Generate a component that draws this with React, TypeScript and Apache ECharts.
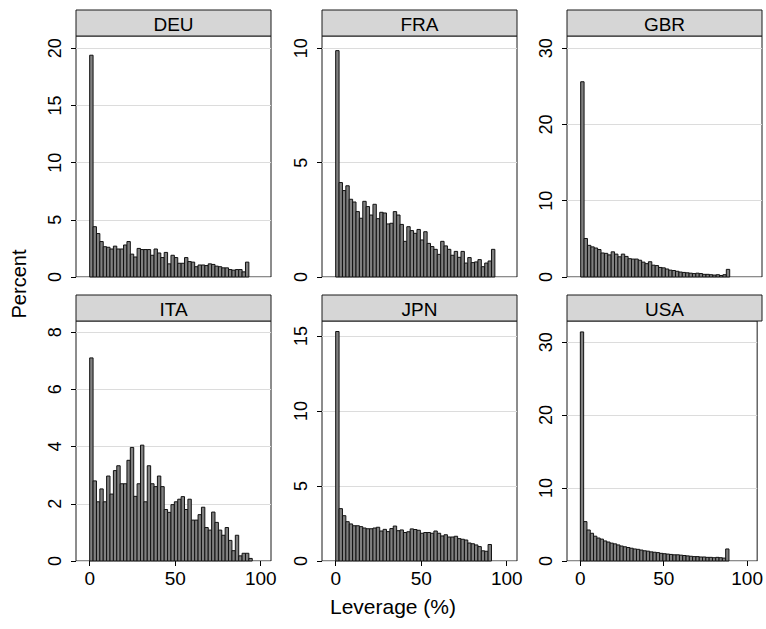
import React, { useEffect, useRef } from "react";
import * as echarts from "echarts";

// ---- data (percent of firms per leverage bin) ----
const binWidth = 1.98;
const countries = ["DEU", "FRA", "GBR", "ITA", "JPN", "USA"];

const deu = [19.4, 4.4, 3.8, 3.1, 2.65, 2.6, 2.45, 2.7, 2.45, 2.45, 2.8, 3.1, 2.0, 1.75, 2.5, 2.4, 2.4, 2.4, 1.9, 2.45, 2.1, 1.7, 2.15, 1.15, 1.9, 1.7, 1.2, 1.2, 1.7, 1.35, 1.3, 0.9, 1.05, 1.05, 1.0, 1.15, 1.1, 0.95, 0.9, 0.8, 0.8, 0.65, 0.6, 0.65, 0.65, 0.45, 1.3];
const fra = [9.9, 4.13, 3.78, 3.99, 3.4, 3.28, 2.86, 2.57, 3.31, 3.08, 2.71, 3.18, 2.55, 2.83, 2.8, 2.32, 2.35, 2.86, 2.71, 2.3, 1.56, 2.2, 2.03, 1.91, 2.08, 1.62, 1.98, 1.47, 1.33, 1.21, 0.99, 1.56, 1.36, 1.21, 0.95, 1.12, 0.86, 1.12, 0.61, 0.85, 0.63, 0.66, 0.76, 0.45, 0.61, 0.7, 1.21];
const gbr = [25.6, 5.05, 4.15, 3.95, 3.8, 3.6, 3.15, 3.1, 2.9, 3.3, 3.0, 2.65, 3.0, 2.7, 2.4, 2.35, 2.35, 2.2, 1.95, 1.75, 2.0, 1.55, 1.5, 1.25, 1.2, 1.05, 0.9, 0.85, 0.75, 0.65, 0.6, 0.55, 0.5, 0.45, 0.5, 0.45, 0.35, 0.35, 0.3, 0.25, 0.3, 0.2, 0.3, 1.0];
const ita = [7.1, 2.8, 2.07, 2.52, 2.07, 2.97, 2.34, 3.16, 3.33, 2.7, 2.7, 3.52, 3.97, 2.26, 2.7, 4.05, 2.07, 3.33, 2.7, 2.6, 2.97, 2.6, 1.8, 1.7, 1.97, 2.07, 2.16, 2.25, 1.8, 2.16, 1.43, 1.43, 1.62, 1.88, 1.17, 1.08, 1.71, 1.35, 1.08, 0.9, 1.17, 0.72, 0.36, 0.9, 0.18, 0.27, 0.27, 0.09];
const jpn = [15.3, 3.49, 3.02, 2.62, 2.47, 2.35, 2.35, 2.29, 2.2, 2.15, 2.15, 2.2, 2.25, 2.0, 2.11, 1.96, 2.16, 2.33, 2.02, 2.07, 1.9, 1.95, 2.14, 2.1, 2.05, 1.85, 1.9, 1.9, 1.85, 2.0, 1.85, 1.67, 1.75, 1.6, 1.6, 1.65, 1.49, 1.45, 1.4, 1.2, 1.15, 1.07, 0.96, 0.68, 0.65, 1.1];
const usa = [31.4, 5.4, 4.25, 3.8, 3.4, 3.15, 3.0, 2.75, 2.6, 2.45, 2.35, 2.2, 2.05, 1.95, 1.85, 1.75, 1.65, 1.6, 1.5, 1.4, 1.35, 1.25, 1.2, 1.15, 1.05, 1.0, 0.95, 0.9, 0.85, 0.85, 0.8, 0.75, 0.7, 0.65, 0.6, 0.6, 0.55, 0.55, 0.5, 0.5, 0.45, 0.5, 0.45, 0.4, 1.65];

const panelValues = [deu, fra, gbr, ita, jpn, usa];

// y tick labels per panel
const deuTicks = [0, 5, 10, 15, 20];
const fraTicks = [0, 5, 10];
const gbrTicks = [0, 10, 20, 30];
const itaTicks = [0, 2, 4, 6, 8];
const jpnTicks = [0, 5, 10, 15];
const usaTicks = [0, 10, 20, 30];
const panelTicks = [deuTicks, fraTicks, gbrTicks, itaTicks, jpnTicks, usaTicks];
const panelYMax = [21.08, 10.54, 31.6, 8.39, 16.0, 32.9];

const xTicks = [0, 50, 100];
const xMin = -8;
const xMax = 106;

const FONT = "'Liberation Sans', Arial, Helvetica, sans-serif";

export default function App() {
  const ref = useRef<HTMLDivElement>(null);

  useEffect(() => {
    if (!ref.current) return;
    const chart = echarts.init(ref.current, null, { renderer: "svg" });

    const colLeft = [76, 322, 567];
    const rowTop = [36, 321];
    const rowH = [241, 240];
    const pw = 195;
    const headerH = 26;

    const grids: any[] = [];
    const xAxes: any[] = [];
    const yAxes: any[] = [];
    const series: any[] = [];
    const graphics: any[] = [];

    countries.forEach((c, i) => {
      const r = Math.floor(i / 3);
      const col = i % 3;
      const left = colLeft[col];
      const top = rowTop[r];
      grids.push({
        left,
        top,
        width: pw,
        height: rowH[r],
        show: true,
        backgroundColor: "#fff",
        borderColor: "#1a1a1a",
        borderWidth: 1,
        containLabel: false,
      });
      const bottomRow = r === 1;
      xAxes.push({
        type: "value",
        gridIndex: i,
        min: xMin,
        max: xMax,
        axisLine: { show: false, onZero: false },
        axisTick: {
          show: bottomRow,
          customValues: xTicks,
          length: 5,
          lineStyle: { color: "#000", width: 1 },
        },
        axisLabel: {
          show: bottomRow,
          customValues: xTicks,
          color: "#000",
          fontSize: 19,
          fontFamily: FONT,
          margin: 8,
        },
        splitLine: { show: false },
      });
      const ticks = panelTicks[i];
      yAxes.push({
        type: "value",
        gridIndex: i,
        min: 0,
        max: panelYMax[i],
        interval: ticks[1] - ticks[0],
        axisLine: { show: false, onZero: false },
        axisTick: {
          show: true,
          customValues: ticks,
          length: 5,
          lineStyle: { color: "#000", width: 1 },
        },
        axisLabel: {
          customValues: ticks,
          rotate: 90,
          color: "#000",
          fontSize: 18,
          fontFamily: FONT,
          margin: 12,
        },
        splitLine: { show: true, lineStyle: { color: "#dcdcdc", width: 1 } },
      });
      const vals = panelValues[i];
      series.push({
        type: "custom",
        xAxisIndex: i,
        yAxisIndex: i,
        encode: { x: [0, 1], y: 2 },
        data: vals.map((v, k) => [k * binWidth, (k + 1) * binWidth, v]),
        renderItem: (params: any, api: any) => {
          const x0 = api.value(0);
          const x1 = api.value(1);
          const y = api.value(2);
          const p0 = api.coord([x0, y]);
          const p1 = api.coord([x1, 0]);
          return {
            type: "rect",
            shape: { x: p0[0], y: p0[1], width: p1[0] - p0[0], height: p1[1] - p0[1] },
            style: { fill: "#808080", stroke: "#111", lineWidth: 1 },
          };
        },
      });
      // panel header
      const hy = top - headerH;
      graphics.push({
        type: "rect",
        shape: { x: left, y: hy, width: pw, height: headerH },
        style: { fill: "#d6d6d6", stroke: "#1a1a1a", lineWidth: 1 },
        z: 10,
      });
      graphics.push({
        type: "text",
        x: left + pw / 2,
        y: hy + headerH / 2 + 1,
        style: {
          text: c,
          fill: "#000",
          font: `19px ${FONT}`,
          textAlign: "center",
          textVerticalAlign: "middle",
        },
        z: 11,
      });
    });

    graphics.push({
      type: "text",
      x: 19,
      y: 284,
      rotation: Math.PI / 2,
      style: {
        text: "Percent",
        fill: "#000",
        font: `20px ${FONT}`,
        textAlign: "center",
        textVerticalAlign: "middle",
      },
    });
    graphics.push({
      type: "text",
      x: 393,
      y: 606,
      style: {
        text: "Leverage (%)",
        fill: "#000",
        font: `21px ${FONT}`,
        textAlign: "center",
        textVerticalAlign: "middle",
      },
    });

    chart.setOption({
      animation: false,
      backgroundColor: "#fff",
      textStyle: { fontFamily: FONT },
      grid: grids,
      xAxis: xAxes,
      yAxis: yAxes,
      series,
      graphic: graphics,
    });

    return () => chart.dispose();
  }, []);

  return (
    <div
      ref={ref}
      style={{ position: "fixed", left: 0, top: 0, width: 766, height: 629 }}
    />
  );
}
